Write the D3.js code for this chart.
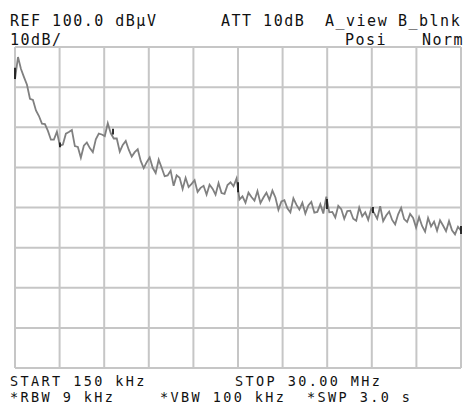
<!DOCTYPE html>
<html>
<head>
<meta charset="utf-8">
<script src="https://cdn.jsdelivr.net/npm/d3@7"></script>
<style>
  html, body { margin: 0; padding: 0; background: #ffffff; }
  svg { display: block; }
  text { font-family: "DejaVu Sans Mono", monospace; fill: #111; }
  .top { font-size: 15px; letter-spacing: 1.5px; }
  .bot { font-size: 13.5px; letter-spacing: 2.4px; }
</style>
</head>
<body>
<svg id="chart" width="465" height="407"></svg>
<script>
// ---- data ----
const startMHz = 0.15;
const stopMHz = 30.0;
const refLevel = 100;      // dBuV at top
const dbPerDiv = 10;
const yDivisions = 8;
const xDivisions = 10;

// measured trace level (dBuV), evenly spaced sweep points from START to STOP
const trace = [
  92.0, 97.5, 94.5, 92.5, 90.6, 87.1, 86.8, 84.2, 82.8, 80.9,
  80.8, 79.1, 76.9, 76.9, 78.9, 75.4, 75.7, 78.4, 78.8, 79.3,
  75.3, 75.1, 72.4, 75.4, 76.2, 74.8, 73.8, 77.0, 78.4, 78.2,
  77.8, 81.0, 78.5, 77.2, 77.2, 73.9, 75.6, 76.6, 74.4, 72.7,
  73.8, 74.5, 71.6, 69.8, 71.3, 72.5, 69.9, 68.6, 71.9, 69.9,
  67.8, 68.0, 69.2, 65.4, 68.0, 67.4, 64.6, 67.4, 65.1, 65.9,
  66.8, 63.9, 64.9, 65.4, 63.2, 65.7, 64.7, 63.2, 66.1, 63.6,
  63.4, 65.6, 66.3, 65.3, 67.2, 62.0, 62.8, 61.2, 63.7, 62.6,
  61.7, 64.1, 61.1, 62.5, 63.7, 61.9, 64.2, 62.5, 59.4, 61.5,
  61.8, 59.8, 58.8, 62.3, 60.7, 59.5, 61.2, 58.5, 60.5, 61.4,
  58.7, 58.9, 60.8, 58.5, 62.7, 58.8, 58.9, 57.5, 60.4, 59.6,
  57.2, 59.1, 59.2, 57.2, 56.7, 60.0, 57.8, 58.8, 56.9, 59.7,
  58.6, 57.2, 60.3, 56.6, 58.0, 59.0, 56.9, 55.8, 58.3, 59.9,
  57.1, 56.4, 58.4, 57.4, 55.0, 57.6, 55.4, 54.0, 57.4, 55.3,
  56.5, 54.2, 56.8, 55.5, 54.1, 56.6, 54.3, 53.3, 55.2, 54.2
];

// short dark segments of the second trace (MHz, upper dBuV, lower dBuV)
const darkFreq = [0.15, 3.16, 6.71, 15.08, 21.03, 24.11, 30.0];
const darkHigh = [94.8, 76.2, 79.6, 66.3, 62.1, 60.1, 55.4];
const darkLow  = [92.0, 75.0, 78.2, 63.8, 59.6, 58.6, 53.4];

// annotation texts
const topLine1 = ["REF 100.0 dB\u03BCV", "ATT 10dB", "A_view", "B_blnk"];
const topLine2 = ["10dB/", "Posi", "Norm"];
const bottomLine1 = ["START 150 kHz", "STOP 30.00 MHz"];
const bottomLine2 = ["*RBW 9 kHz", "*VBW 100 kHz", "*SWP 3.0 s"];

// ---- layout ----
const plot = { left: 15, right: 461, top: 47, bottom: 368 };

const svg = d3.select("#chart");

const x = d3.scaleLinear().domain([startMHz, stopMHz]).range([plot.left, plot.right]);
const y = d3.scaleLinear()
  .domain([refLevel - dbPerDiv * yDivisions, refLevel])
  .range([plot.bottom, plot.top]);

const freqs = trace.map((_, i) => startMHz + i * (stopMHz - startMHz) / (trace.length - 1));

// grid
const xTicks = d3.range(xDivisions + 1).map(k => startMHz + k * (stopMHz - startMHz) / xDivisions);
const yTicks = d3.range(yDivisions + 1).map(k => refLevel - k * dbPerDiv);

const grid = svg.append("g").attr("stroke", "#c6c6c6").attr("stroke-width", 2).attr("fill", "none");
grid.selectAll("line.v").data(xTicks).join("line")
  .attr("class", "v")
  .attr("x1", d => x(d)).attr("x2", d => x(d))
  .attr("y1", y.range()[1]).attr("y2", y.range()[0]);
grid.selectAll("line.h").data(yTicks).join("line")
  .attr("class", "h")
  .attr("x1", x.range()[0]).attr("x2", x.range()[1])
  .attr("y1", d => y(d)).attr("y2", d => y(d));

// trace
const line = d3.line()
  .x((d, i) => x(freqs[i]))
  .y(d => y(d))
  .curve(d3.curveLinear);

svg.append("path")
  .datum(trace)
  .attr("fill", "none")
  .attr("stroke", "#808080")
  .attr("stroke-width", 1.8)
  .attr("stroke-linejoin", "miter")
  .attr("d", line);

// dark marks
svg.append("g").selectAll("line").data(darkFreq).join("line")
  .attr("x1", d => x(d)).attr("x2", d => x(d))
  .attr("y1", (d, i) => y(darkHigh[i])).attr("y2", (d, i) => y(darkLow[i]))
  .attr("stroke", "#1a1a1a").attr("stroke-width", 1.8);

// texts
function row(texts, xs, baseline, cls) {
  svg.append("g").attr("class", cls).selectAll("text").data(texts).join("text")
    .attr("x", (d, i) => xs[i])
    .attr("y", baseline)
    .text(d => d);
}
row(topLine1, [10, 221, 325, 398], 26, "top");
row(topLine2, [10, 345, 422], 45, "top");
row(bottomLine1, [10, 235], 386, "bot");
row(bottomLine2, [10, 160, 307], 402, "bot");
</script>
</body>
</html>
